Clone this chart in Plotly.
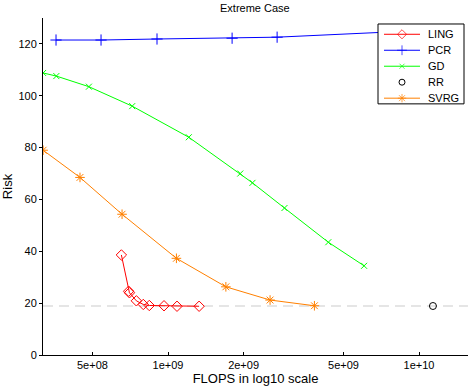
import plotly.graph_objects as go

# FLOPS / risk values
ling_x = [6.52e8, 6.97e8, 7.02e8, 7.48e8, 7.97e8, 8.42e8, 9.64e8, 1.086e9, 1.33e9]
ling_y = [38.6, 24.6, 24.0, 20.9, 19.5, 19.1, 19.0, 18.8, 18.8]

pcr_x = [3.58e8, 5.41e8, 9.04e8, 1.80e9, 2.72e9, 8.0e9, 1.14e10]
pcr_y = [121.5, 121.5, 121.9, 122.2, 122.6, 124.7, 125.2]

gd_x = [3.18e8, 3.59e8, 4.84e8, 7.2e8, 1.21e9, 1.94e9, 2.17e9, 2.91e9, 4.35e9, 6.04e9]
gd_y = [108.8, 107.6, 103.5, 96.0, 84.0, 70.0, 66.4, 56.7, 43.5, 34.4]

rr_x = [1.136e10]
rr_y = [18.9]

svrg_x = [3.18e8, 4.46e8, 6.56e8, 1.08e9, 1.70e9, 2.55e9, 3.83e9]
svrg_y = [79.0, 68.5, 54.3, 37.3, 26.3, 21.2, 19.0]

tick_vals = [5e8, 1e9, 2e9, 5e9, 1e10]
tick_text = ["5e+08", "1e+09", "2e+09", "5e+09", "1e+10"]

FONT = "Liberation Sans"

# name, x, y, colour, marker symbol, marker size, draw line?
series = [
    ("LING", ling_x, ling_y, "#ff0000", "diamond-open", 8, True),
    ("PCR", pcr_x, pcr_y, "#0000ff", "cross-thin-open", 8, True),
    ("GD", gd_x, gd_y, "#00ff00", "x-thin-open", 6, True),
    ("RR", rr_x, rr_y, "#000000", "circle-open", 7, False),
    ("SVRG", svrg_x, svrg_y, "#ff8000", "asterisk-open", 8, True),
]

fig = go.Figure()

for name, xs, ys, col, sym, size, has_line in series:
    fig.add_trace(go.Scatter(
        x=xs, y=ys, name=name, mode="lines+markers" if has_line else "markers",
        line=dict(color=col, width=1),
        marker=dict(symbol=sym, size=size, color=col, line=dict(width=1, color=col)),
        showlegend=False,
    ))

# reference level of RR
fig.add_shape(type="line", xref="paper", x0=0, x1=1, yref="y", y0=rr_y[0], y1=rr_y[0],
              line=dict(color="#cccccc", width=1.2, dash="10px,6px"), layer="below")

# matlab-style legend box, drawn on a pixel-scaled overlay axis so it can hide the PCR line
# (plotly's own legend rows are too tall)
box_l, box_r, box_t, box_b = 378, 464, 24, 104
fig.add_trace(go.Scatter(
    x=[box_l, box_r, box_r, box_l, box_l], y=[box_t, box_t, box_b, box_b, box_t],
    xaxis="x2", yaxis="y2", mode="lines", fill="toself", fillcolor="white",
    line=dict(color="black", width=1), hoverinfo="skip", showlegend=False,
))
for i, (name, xs, ys, col, sym, size, has_line) in enumerate(series):
    row = 34.3 + 16 * i
    fig.add_trace(go.Scatter(
        x=[384, 402, 420] if has_line else [402], y=[row] * (3 if has_line else 1),
        xaxis="x2", yaxis="y2", mode="lines+markers" if has_line else "markers",
        line=dict(color=col, width=1),
        marker=dict(symbol=sym, size=[0, size - 1, 0] if has_line else size - 1, color=col,
                    line=dict(width=1, color=col)),
        hoverinfo="skip", showlegend=False,
    ))
    fig.add_annotation(x=426, y=row, xref="x2", yref="y2", text=name, showarrow=False,
                       xanchor="left", yanchor="middle", font=dict(size=11))

fig.update_layout(
    width=472, height=390,
    margin=dict(l=43, r=4, t=18, b=35),
    paper_bgcolor="white", plot_bgcolor="white",
    font=dict(family=FONT, size=11, color="black"),
    title=dict(text="Extreme Case", x=0.54, xanchor="center", y=0.988, yanchor="top",
               font=dict(size=11)),
    showlegend=False,
    xaxis=dict(
        type="log", range=[8.502, 10.195],
        tickvals=tick_vals, ticktext=tick_text,
        showgrid=False, zeroline=False,
        showline=True, linecolor="black", linewidth=1,
        ticks="inside", ticklen=3, tickcolor="black",
        title=dict(text="FLOPS in log10 scale", standoff=0),
    ),
    yaxis=dict(
        range=[0, 130], tickvals=[0, 20, 40, 60, 80, 100, 120],
        showgrid=False, zeroline=False,
        showline=True, linecolor="black", linewidth=1,
        ticks="outside", ticklen=3, tickcolor="black",
        title=dict(text="Risk", standoff=4),
    ),
    xaxis2=dict(overlaying="x", range=[43, 468], visible=False),
    yaxis2=dict(overlaying="y", range=[355.5, 18], visible=False),
)

# page body has a default 8px margin; drop it so the chart sits at the window corner
fig.write_html("out.html", config={"displayModeBar": False},
               post_script="document.body.style.margin='0';")
